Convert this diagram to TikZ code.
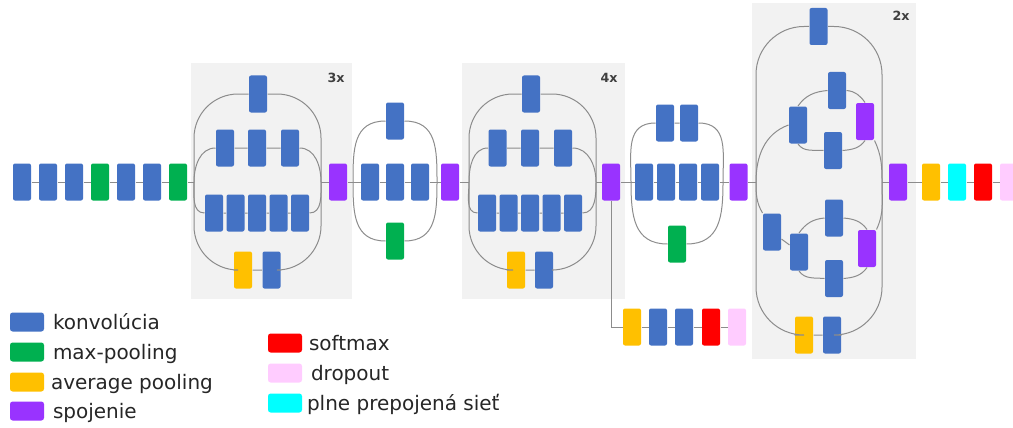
\documentclass[tikz,border=0pt]{standalone}
\usepackage{fontspec}
\setmainfont{DejaVu Sans}
\usetikzlibrary{positioning}

\definecolor{convblue}{RGB}{68,114,196}
\definecolor{maxgreen}{RGB}{0,176,80}
\definecolor{avgyellow}{RGB}{255,192,0}
\definecolor{catpurple}{RGB}{153,51,255}
\definecolor{smaxred}{RGB}{255,0,0}
\definecolor{droppink}{RGB}{255,204,255}
\definecolor{fccyan}{RGB}{0,255,255}
\definecolor{blockgray}{RGB}{242,242,242}
\definecolor{linegray}{RGB}{140,140,140}

\tikzset{every picture/.style={line width=0.75pt}}
\tikzset{
  layer/.style={rectangle, rounded corners=1.5pt, minimum width=13.5pt, minimum height=27.75pt, inner sep=0pt},
  conv/.style={layer, fill=convblue},
  maxpool/.style={layer, fill=maxgreen},
  avgpool/.style={layer, fill=avgyellow},
  concat/.style={layer, fill=catpurple},
  smax/.style={layer, fill=smaxred},
  drop/.style={layer, fill=droppink},
  fullconn/.style={layer, fill=fccyan},
  wire/.style={draw=linegray, line width=0.75pt},
  swatch/.style={rectangle, rounded corners=2pt, minimum width=25.5pt, minimum height=14.25pt, inner sep=0pt},
  legtext/.style={inner sep=0pt, text height=13.5pt, text depth=3pt, font=\fontsize{15}{18}\selectfont, text=black!85},
  reps/.style={inner sep=0pt, font=\fontsize{9.5}{11}\selectfont\bfseries, text=black!75}
}

\begin{document}
\begin{tikzpicture}[x=0.75pt,y=0.75pt]
\useasboundingbox (0,0) rectangle (1013,-428);
\clip (0,0) rectangle (1013,-428);

% Repeated blocks
\fill[blockgray] (191,-63) rectangle (352,-299);
\fill[blockgray] (462,-63) rectangle (625,-299);
\fill[blockgray] (752,-3) rectangle (916,-359);
\node[reps] (rep1) at (336,-78) {3x};
\node[reps] (rep2) at (609,-78) {4x};
\node[reps] (rep3) at (901,-16) {2x};

% Stem
\node[conv] (s1) at (22,-182) {};
\node[conv] (s2) at (48,-182) {};
\node[conv] (s3) at (74,-182) {};
\node[maxpool] (s4) at (100,-182) {};
\node[conv] (s5) at (126,-182) {};
\node[conv] (s6) at (152,-182) {};
\node[maxpool] (s7) at (178,-182) {};
% Connection
\draw[wire] (s1) -- (s2) -- (s3) -- (s4) -- (s5) -- (s6) -- (s7);

% Block A
\coordinate (ain) at (194,-182);
\coordinate (aout) at (321,-182);
\node[conv] (a1) at (258,-94) {};
\node[conv] (a2) at (225,-148) {};
\node[conv] (a3) at (257,-148) {};
\node[conv] (a4) at (290,-148) {};
\node[conv] (a5) at (214,-213) {};
\node[conv] (a6) at (235.5,-213) {};
\node[conv] (a7) at (257,-213) {};
\node[conv] (a8) at (278.5,-213) {};
\node[conv] (a9) at (300,-213) {};
\node[avgpool] (a10) at (243,-270) {};
\node[conv] (a11) at (271.5,-270) {};
\node[concat] (pa) at (338,-182) {};
% Connection
\draw[wire] (s7) -- (ain);
\draw[wire] (aout) -- (pa);
\draw[wire, rounded corners=33pt] (ain) |- (a1) -| (aout);
\draw[wire, rounded corners=33pt] (ain) |- (a10) -- (a11) -| (aout);
\draw[wire] (ain) to[out=90,in=180] (a2) -- (a3) -- (a4) to[out=0,in=90] (aout);
\draw[wire] (ain) to[out=-90,in=180] (a5) -- (a6) -- (a7) -- (a8) -- (a9) to[out=0,in=-90] (aout);

% Block B
\coordinate (bin) at (353,-182);
\coordinate (bout) at (437,-182);
\node[conv] (b1) at (395,-121) {};
\node[conv] (b2) at (370,-182) {};
\node[conv] (b3) at (395,-182) {};
\node[conv] (b4) at (420,-182) {};
\node[maxpool] (b5) at (395,-241) {};
\node[concat] (pb) at (450,-182) {};
% Connection
\draw[wire] (pa) -- (b2) -- (b3) -- (b4) -- (pb);
\draw[wire] (bin) to[out=90,in=180,looseness=1.2] (b1) to[out=0,in=90,looseness=1.2] (bout);
\draw[wire] (bin) to[out=-90,in=180,looseness=1.2] (b5) to[out=0,in=-90,looseness=1.2] (bout);

% Block C
\coordinate (cin) at (469,-182);
\coordinate (cout) at (596,-182);
\node[conv] (c1) at (531,-94) {};
\node[conv] (c2) at (497.5,-148) {};
\node[conv] (c3) at (530,-148) {};
\node[conv] (c4) at (563,-148) {};
\node[conv] (c5) at (487,-213) {};
\node[conv] (c6) at (508.5,-213) {};
\node[conv] (c7) at (530,-213) {};
\node[conv] (c8) at (551.5,-213) {};
\node[conv] (c9) at (573,-213) {};
\node[avgpool] (c10) at (516,-270) {};
\node[conv] (c11) at (544,-270) {};
\node[concat] (pc) at (611,-182) {};
% Connection
\draw[wire] (pb) -- (cin);
\draw[wire] (cout) -- (pc);
\draw[wire, rounded corners=33pt] (cin) |- (c1) -| (cout);
\draw[wire, rounded corners=33pt] (cin) |- (c10) -- (c11) -| (cout);
\draw[wire] (cin) to[out=90,in=180] (c2) -- (c3) -- (c4) to[out=0,in=90] (cout);
\draw[wire] (cin) to[out=-90,in=180] (c5) -- (c6) -- (c7) -- (c8) -- (c9) to[out=0,in=-90] (cout);

% Auxiliary head
\node[avgpool] (x1) at (632,-327) {};
\node[conv] (x2) at (658,-327) {};
\node[conv] (x3) at (684,-327) {};
\node[smax] (x4) at (711,-327) {};
\node[drop] (x5) at (737,-327) {};
% Connection
\draw[wire] (pc) |- (x1) -- (x2) -- (x3) -- (x4) -- (x5);

% Block D
\coordinate (din) at (631,-182);
\coordinate (dout) at (723,-182);
\node[conv] (d1) at (665,-123) {};
\node[conv] (d2) at (689,-123) {};
\node[conv] (d3) at (644,-182) {};
\node[conv] (d4) at (666,-182) {};
\node[conv] (d5) at (688,-182) {};
\node[conv] (d6) at (710,-182) {};
\node[maxpool] (d7) at (677,-244) {};
\node[concat] (pd) at (738.5,-182) {};
% Connection
\draw[wire] (pc) -- (d3) -- (d4) -- (d5) -- (d6) -- (pd);
\draw[wire] (din) to[out=90,in=180,looseness=1.2] (d1) -- (d2) to[out=0,in=90,looseness=1.2] (dout);
\draw[wire] (din) to[out=-90,in=180,looseness=1.2] (d7) to[out=0,in=-90,looseness=1.2] (dout);

% Block E
\coordinate (ein) at (756,-182);
\coordinate (eout) at (882,-182);
\node[conv] (e1) at (818.5,-26.5) {};
\node[conv] (e2) at (798,-125) {};
\node[conv] (e3) at (837,-90.5) {};
\node[conv] (e4) at (833,-150.5) {};
\node[concat] (e5) at (865,-121.5) {};
\node[conv] (e6) at (772,-232) {};
\node[conv] (e7) at (799,-252) {};
\node[conv] (e8) at (834,-218) {};
\node[conv] (e9) at (834,-278.5) {};
\node[concat] (e10) at (867,-248.5) {};
\node[avgpool] (e11) at (804,-335) {};
\node[conv] (e12) at (832,-335) {};
\node[concat] (pe) at (898,-182) {};
% Connection
\draw[wire] (pd) -- (ein);
\draw[wire, rounded corners=36pt] (ein) |- (e1) -| (eout);
\draw[wire, rounded corners=36pt] (ein) |- (e11) -- (e12) -| (eout);
\draw[wire] (ein) to[out=90,in=200] (e2.west);
\draw[wire] (e2.north) to[out=55,in=185] (e3.west);
\draw[wire] (e3.east) to[out=-5,in=125] (e5.north);
\draw[wire] (e2.south) to[out=-55,in=175] (e4.west);
\draw[wire] (e4.east) to[out=5,in=-125] (e5.south);
\draw[wire] (e5.south east) to[out=-65,in=90] (eout);
\draw[wire] (ein) to[out=-90,in=120] (e6.north west);
\draw[wire] (e6) -- (e7);
\draw[wire] (e7.north) to[out=55,in=185] (e8.west);
\draw[wire] (e8.east) to[out=-5,in=125] (e10.north);
\draw[wire] (e7.south) to[out=-55,in=175] (e9.west);
\draw[wire] (e9.east) to[out=5,in=-125] (e10.south);
\draw[wire] (e10.north east) to[out=65,in=-90] (eout);

% Head
\node[avgpool] (f1) at (931,-182) {};
\node[fullconn] (f2) at (957,-182) {};
\node[smax] (f3) at (983,-182) {};
\node[drop] (f4) at (1009,-182) {};
% Connection
\draw[wire] (eout) -- (pe) -- (f1) -- (f2) -- (f3) -- (f4);

% Legend
\node[swatch, fill=convblue] (k1) at (27,-322) {};
\node[legtext, right=6pt of k1] (t1) {konvolúcia};
\node[swatch, fill=maxgreen] (k2) at (27,-352) {};
\node[legtext, right=6pt of k2] (t2) {max-pooling};
\node[swatch, fill=avgyellow] (k3) at (27,-382) {};
\node[legtext, right=4.5pt of k3] (t3) {average pooling};
\node[swatch, fill=catpurple] (k4) at (27,-411) {};
\node[legtext, right=6pt of k4] (t4) {spojenie};
\node[swatch, fill=smaxred] (k5) at (285,-343) {};
\node[legtext, right=4.5pt of k5] (t5) {softmax};
\node[swatch, fill=droppink] (k6) at (285,-373) {};
\node[legtext, right=6pt of k6] (t6) {dropout};
\node[swatch, fill=fccyan] (k7) at (285,-403) {};
\node[legtext, right=3pt of k7] (t7) {plne prepojená sieť};

\end{tikzpicture}
\end{document}
